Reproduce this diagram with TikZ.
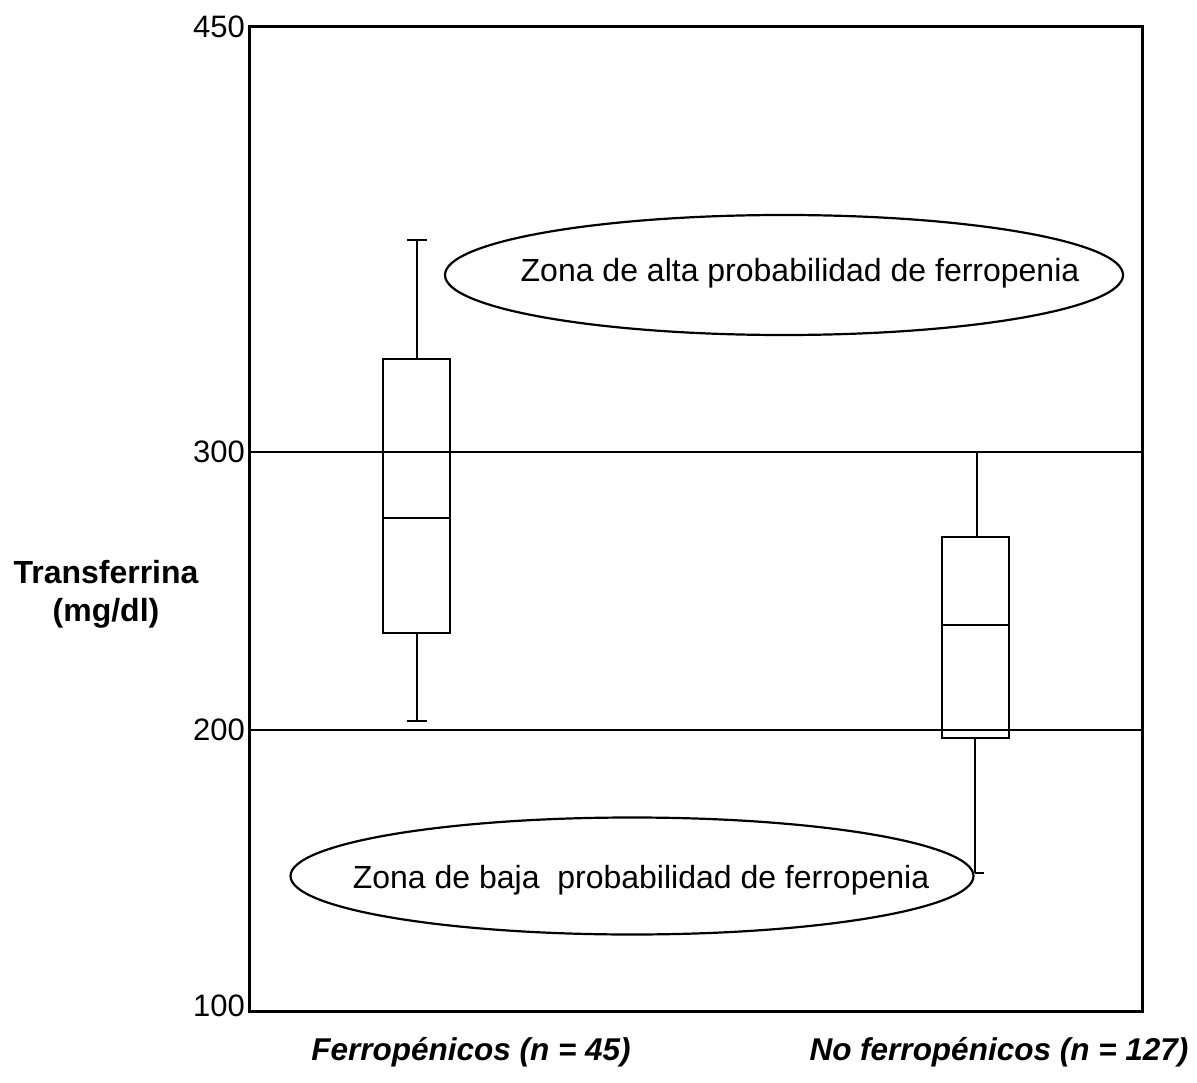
\documentclass[tikz,border=0pt]{standalone}
\usepackage{fontspec}
\setmainfont{Liberation Sans}
\usetikzlibrary{shapes.geometric}
\begin{document}
\begin{tikzpicture}[x=1pt,y=-1pt,
  frameline/.style={line width=3pt},
  refline/.style={line width=2.6pt},
  boxline/.style={line width=2.4pt},
  zone/.style={ellipse, draw, line width=2.2pt, inner sep=0pt},
  zonetext/.style={inner sep=0pt, font=\fontsize{32}{38}\selectfont},
  ticklabel/.style={anchor=east, inner sep=0pt, font=\fontsize{31}{37}\selectfont},
  axlabel/.style={inner sep=0pt, align=center, font=\bfseries\fontsize{32}{38}\selectfont},
  catlabel/.style={inner sep=0pt, font=\bfseries\itshape\fontsize{31.5}{38}\selectfont}]
\useasboundingbox (0,0) rectangle (1197,1083);
% frame
\coordinate (TL) at (249,27);
\coordinate (BR) at (1142,1011);
\draw[frameline] (TL) rectangle (BR);
% reference lines
\coordinate (L300) at (249,452);
\coordinate (R300) at (1142,452);
\coordinate (L200) at (249,730);
\coordinate (R200) at (1142,730);
\draw[refline] (L300) -- (R300);
\draw[refline] (L200) -- (R200);
% tick labels
\node[ticklabel] (t450) at (245,27) {450};
\node[ticklabel] (t300) at (245,452) {300};
\node[ticklabel] (t200) at (245,730) {200};
\node[ticklabel] (t100) at (245,1006) {100};
% axis label
\node[axlabel] (ylab) at (106,594) {Transferrina\\(mg/dl)};
% box 1
\draw[boxline] (383,359) rectangle (450,633);
\draw[boxline] (383,518) -- (450,518);
\draw[boxline] (417,359) -- (417,240);
\draw[boxline] (407,240) -- (427,240);
\draw[boxline] (417,633) -- (417,721);
\draw[boxline] (407,721) -- (427,721);
% box 2
\draw[boxline] (942,537) rectangle (1009,738);
\draw[boxline] (942,625) -- (1009,625);
\draw[boxline] (977,537) -- (977,452);
\draw[boxline] (966,452) -- (988,452);
\draw[boxline] (975,738) -- (975,873);
\draw[boxline] (975,873) -- (984,873);
% zones
\node[zone, minimum width=678pt, minimum height=120pt] (zoneA) at (784,275) {};
\node[zonetext] (zoneAtext) at (800,273) {Zona de alta probabilidad de ferropenia};
\node[zone, minimum width=683pt, minimum height=117pt] (zoneB) at (632,876) {};
\node[zonetext] (zoneBtext) at (641,880) {Zona de baja\ \ probabilidad de ferropenia};
% category labels
\node[catlabel] (catA) at (471,1052) {Ferropénicos (n = 45)};
\node[catlabel] (catB) at (999,1052) {No ferropénicos (n = 127)};
\end{tikzpicture}
\end{document}
